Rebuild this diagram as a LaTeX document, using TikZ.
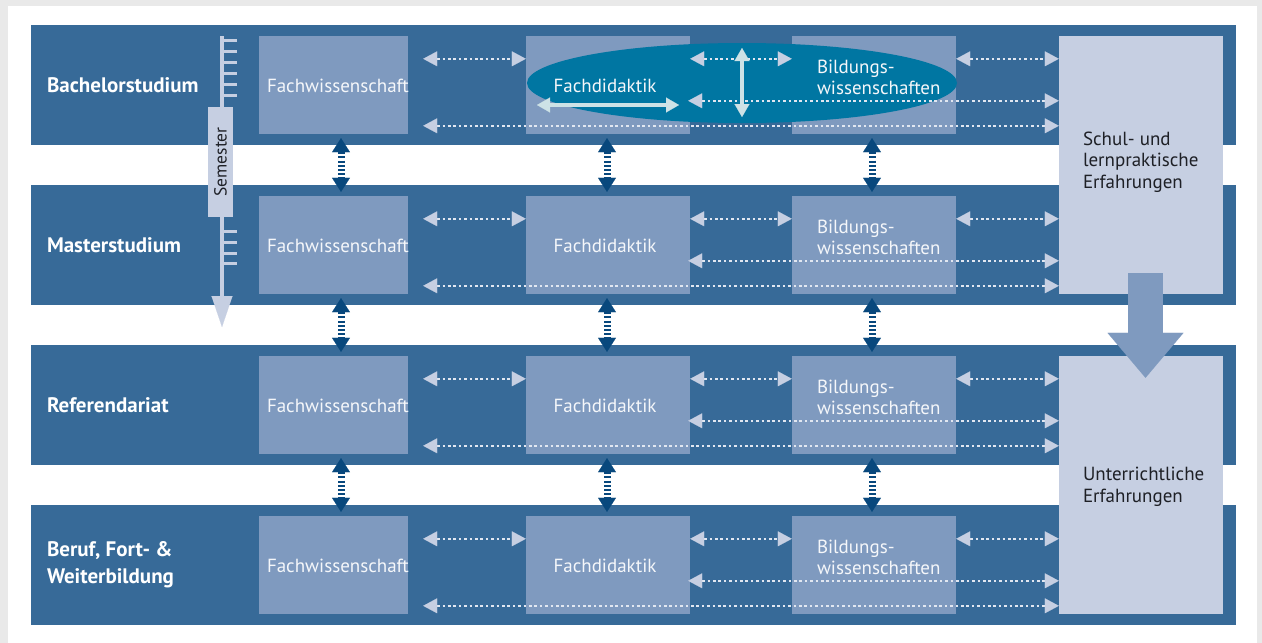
\documentclass[tikz,border=0pt]{standalone}
\usepackage{fontspec}
\setmainfont{PT Sans}
\usetikzlibrary{arrows.meta, shapes.geometric, calc}
\definecolor{bandblue}{RGB}{55,106,152}
\definecolor{boxblue}{RGB}{127,154,191}
\definecolor{paleblue}{RGB}{198,207,226}
\definecolor{darkblue}{RGB}{8,72,125}
\definecolor{tealblue}{RGB}{0,118,162}
\definecolor{dotwhite}{RGB}{225,231,241}
\definecolor{ellarrow}{RGB}{205,226,230}
\definecolor{inktext}{RGB}{30,32,38}
\definecolor{shadowgray}{RGB}{233,233,233}

\begin{document}
\begin{tikzpicture}[x=1pt, y=-1pt,
    band/.style={rectangle, fill=bandblue, minimum width=1205pt, minimum height=120pt, inner sep=0pt},
    fbox/.style={rectangle, fill=boxblue, minimum width=#1, minimum height=98pt, inner sep=0pt},
    pale/.style={rectangle, fill=paleblue, minimum width=164pt, minimum height=258pt, inner sep=0pt},
    phase/.style={text=white, font=\bfseries\fontsize{21}{27}\selectfont, align=left, inner sep=0pt},
    btext/.style={text=white!92!boxblue, font=\fontsize{19}{21}\selectfont, align=left, inner sep=0pt},
    ptext/.style={text=inktext, font=\fontsize{19}{21.5}\selectfont, align=left, inner sep=0pt},
    hdot/.style={draw=dotwhite, line width=2.6pt, dash pattern=on 2.6pt off 2.8pt,
      {Triangle[length=14pt, width=15pt, line width=0.1pt, color=paleblue]}-{Triangle[length=14pt, width=15pt, line width=0.1pt, color=paleblue]}},
    vdot/.style={draw=darkblue, line width=7pt, dash pattern=on 2pt off 2.2pt,
      {Triangle[length=14pt, width=18pt, line width=0.1pt]}-{Triangle[length=14pt, width=18pt, line width=0.1pt]}},
    earrow/.style={draw=ellarrow, line width=4pt,
      {Triangle[length=13pt, width=15pt, line width=0.1pt]}-{Triangle[length=13pt, width=15pt, line width=0.1pt]}}
  ]
  % page with shadow
  \useasboundingbox (0,0) rectangle (1262,643);
  \fill[shadowgray] (0,0) rectangle (1262,643);
  \fill[white] (8,6) rectangle (1257,643);

  % phases and their boxes
  \foreach \i/\t in {1/25, 2/185, 3/345, 4/505} {
    \node[band] (band\i) at (633.5,\t+60) {};
    \node[fbox=149pt] (fw\i) at (333.5,\t+60) {};
    \node[fbox=164pt] (fd\i) at (608,\t+60) {};
    \node[fbox=164pt] (bw\i) at (874,\t+60) {};
  }
  \node[pale] (sch) at (1141,165) {};
  \node[pale] (unt) at (1141,485) {};

  % integration in the bachelor
  \node[ellipse, fill=tealblue, minimum width=430pt, minimum height=80pt, inner sep=0pt] (ell) at (742,83) {};

  % semester scale
  \coordinate (semtop) at (222,36);
  \coordinate (semtip) at (222,327);
  \draw[paleblue, line width=3.5pt, -{Triangle[length=31pt, width=21pt, line width=0.1pt]}] (semtop) -- (semtip);
  \foreach \y in {40.3, 51.3, 62.4, 73.3, 84.2, 95.1, 231.7, 242.7, 253.8, 263.5}
    \draw[paleblue, line width=3pt] (221,\y) -- (237,\y);
  \node[fill=paleblue, rotate=90, minimum width=110pt, minimum height=25pt, inner sep=0pt,
    text=inktext, font=\fontsize{17.5}{20}\selectfont] (sem) at (220.5,162) {Semester};

  % exchange within the phases
  \foreach \i/\r in {1/sch, 2/sch, 3/unt, 4/unt} {
    \draw[hdot] ($(fw\i.north east)+(15,23)$) -- ($(fd\i.north west)+(0,23)$);
    \draw[hdot] ($(fd\i.north east)+(0,23)$) -- ($(bw\i.north west)+(0,23)$);
    \draw[hdot] ($(bw\i.north east)+(0,23)$) -- ($(bw\i.north east -| \r.west)+(0,23)$);
    \draw[hdot] ($(fd\i.north east)+(-2,65)$) -- ($(fd\i.north east -| \r.west)+(0,65)$);
    \draw[hdot] ($(fw\i.north east)+(15,90)$) -- ($(fw\i.north east -| \r.west)+(0,90)$);
  }

  % exchange between the phases
  \foreach \i/\j in {1/2, 2/3, 3/4} {
    \draw[vdot] ($(fw\i.south)+(7.5,4)$) -- ($(fw\j.north)+(7.5,-4)$);
    \draw[vdot] ($(fd\i.south)+(-1,4)$) -- ($(fd\j.north)+(-1,-4)$);
    \draw[vdot] ($(bw\i.south)+(-2,4)$) -- ($(bw\j.north)+(-2,-4)$);
  }

  % arrows in the ellipse
  \coordinate (ea) at ($(ell.center)+(-205,22)$);
  \coordinate (eb) at ($(ell.center)+(-63,22)$);
  \draw[earrow] (ea) -- (eb);
  \draw[earrow] ($(ell.center)+(0,-35)$) -- ($(ell.center)+(0,34)$);

  % from practice to teaching
  \draw[boxblue, line width=35pt, -{Triangle[length=45pt, width=76pt, line width=0.1pt]}]
    ($(sch.south)+(4.5,-21)$) -- ($(unt.north)+(4.5,22)$);

  % labels
  \foreach \i/\t in {1/Bachelorstudium, 2/Masterstudium, 3/Referendariat, 4/{Beruf, Fort- \&\\Weiterbildung}} {
    \node[phase, anchor=west] (lab\i) at ($(band\i.west)+(16,0)$) {\t};
    \node[btext, anchor=west] (fwl\i) at ($(fw\i.west)+(8,1)$) {Fachwissenschaft};
    \node[btext] (fdl\i) at ($(fd\i.center)+(-3,1)$) {Fachdidaktik};
    \node[btext, anchor=west] (bwl\i) at ($(bw\i.west)+(25,-8)$) {Bildungs-\\wissenschaften};
  }
  \node[ptext, anchor=west] (schl) at ($(sch.west)+(24,-3)$) {Schul- und\\lernpraktische\\Erfahrungen};
  \node[ptext, anchor=west] (untl) at ($(unt.west)+(24,2)$) {Unterrichtliche\\Erfahrungen};
\end{tikzpicture}
\end{document}
